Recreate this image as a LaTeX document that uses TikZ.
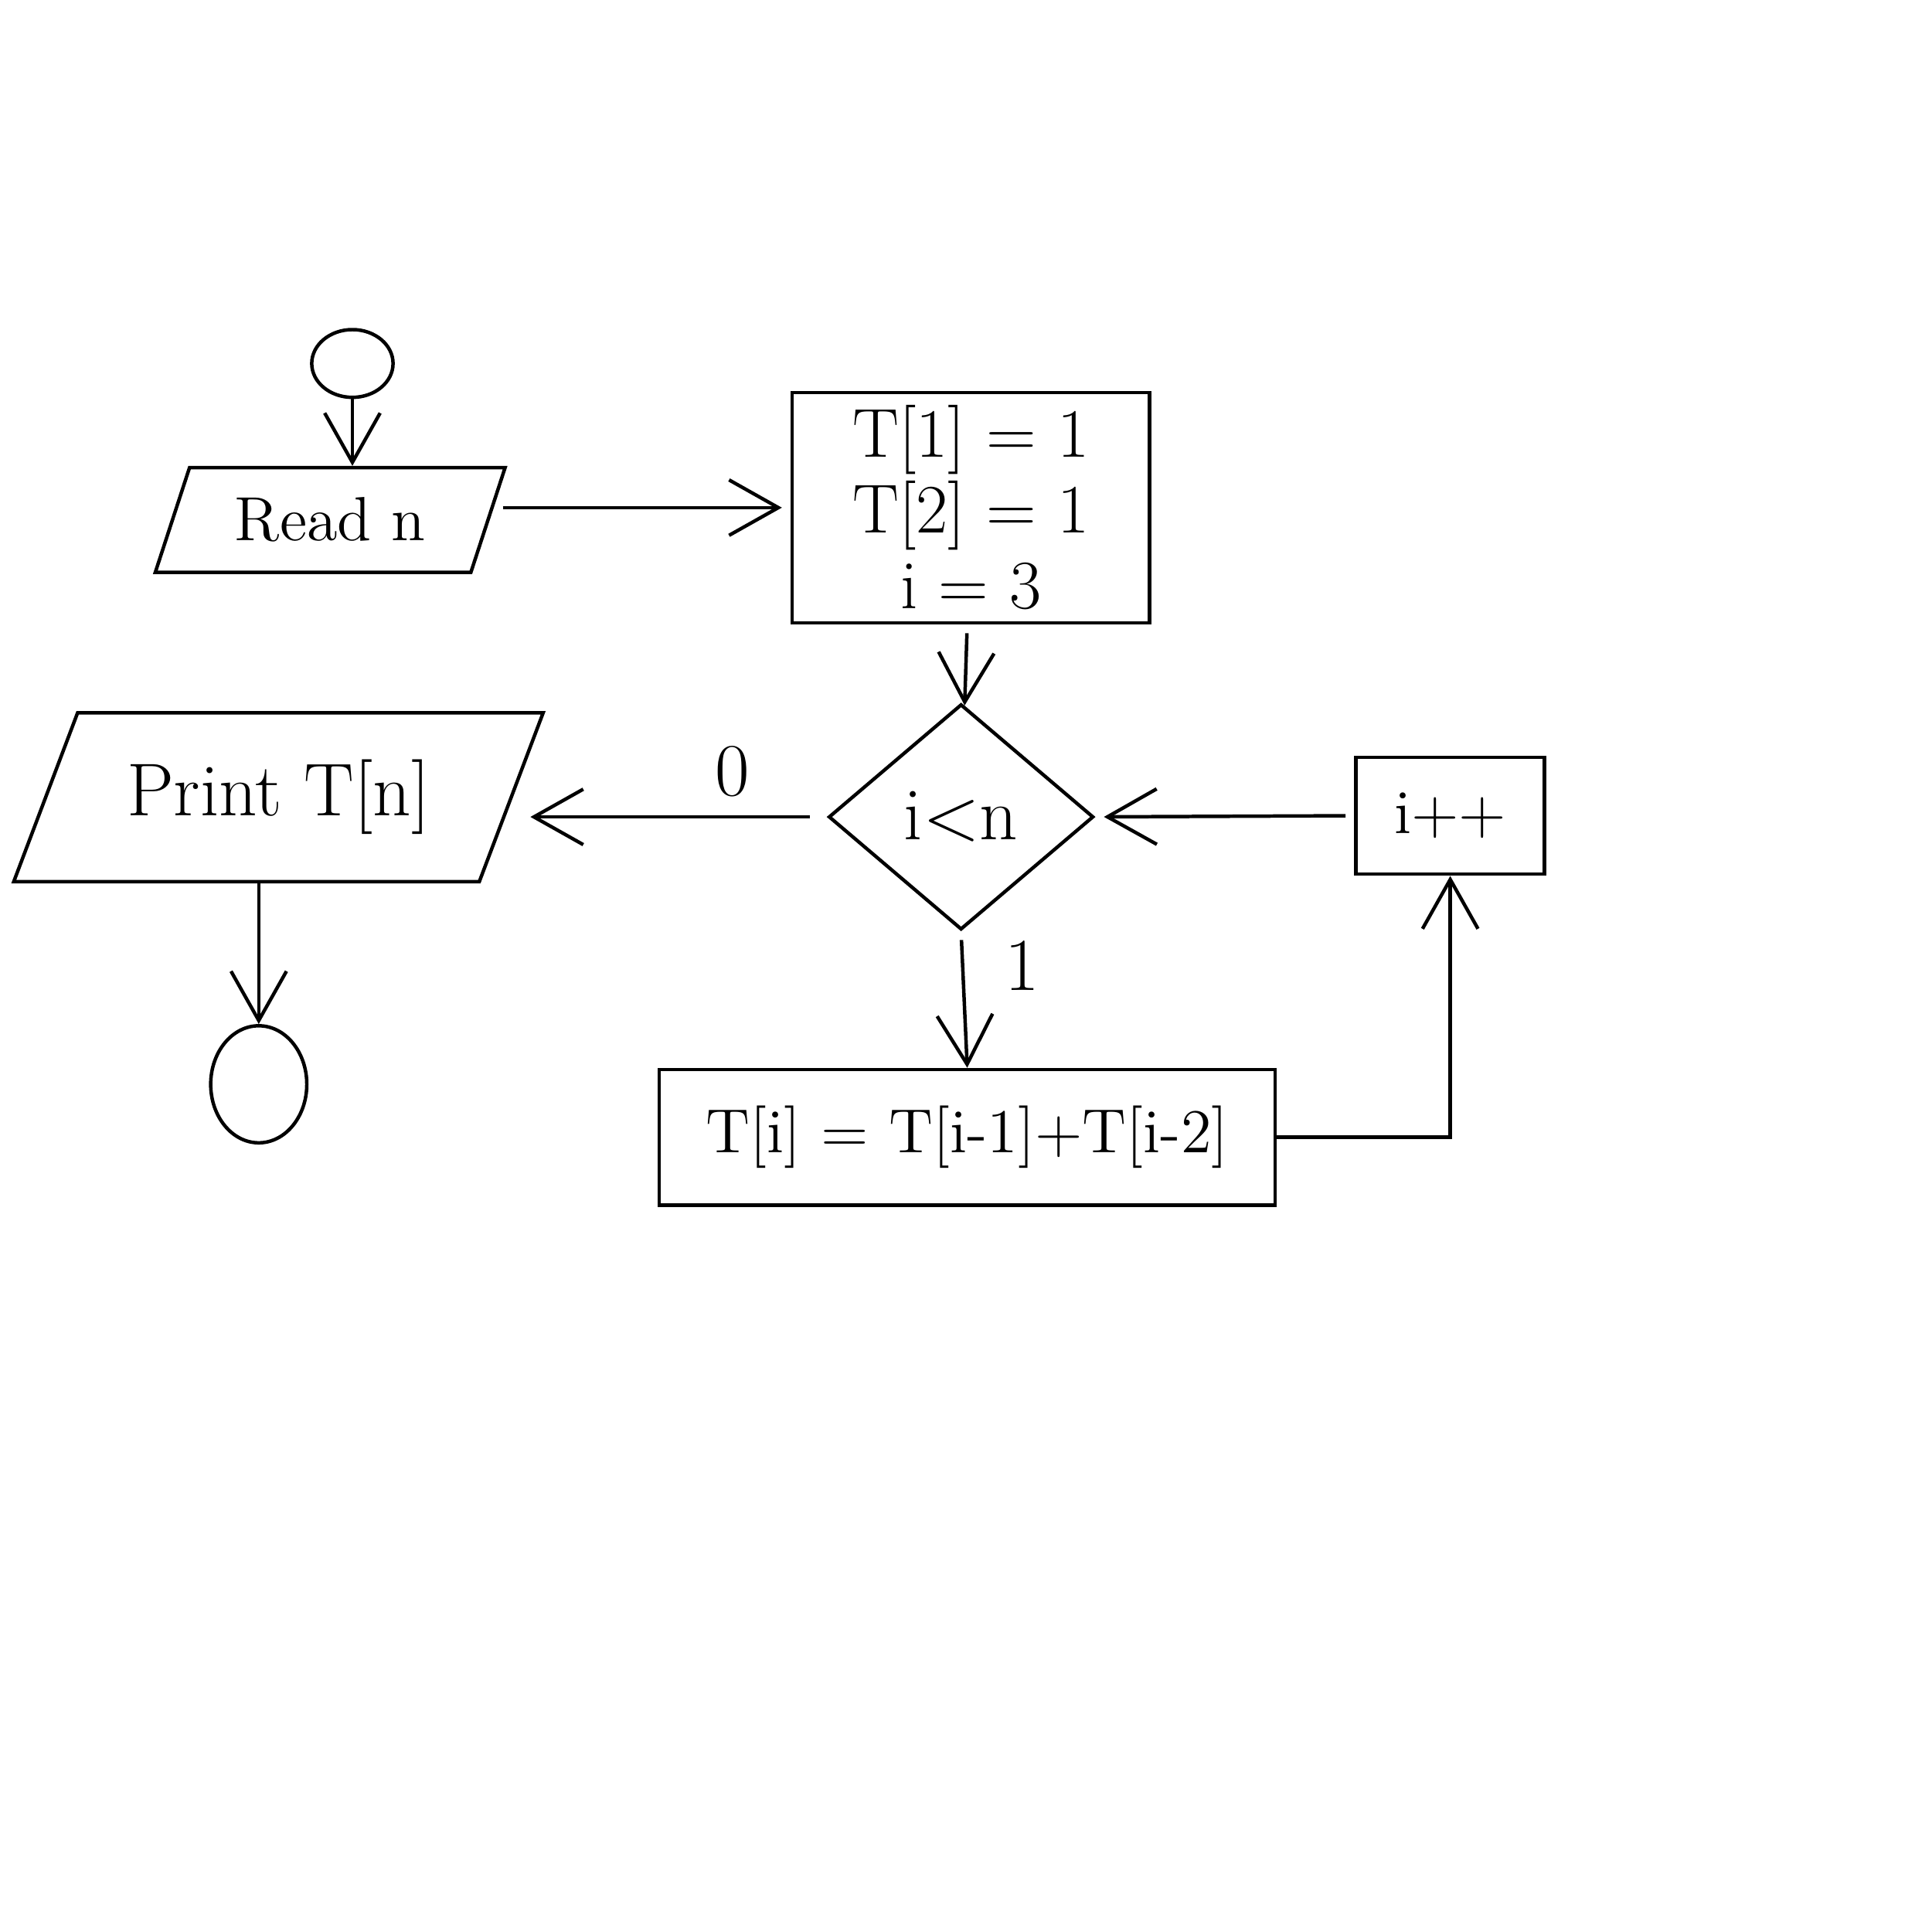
\documentclass[tikz,border=0pt]{standalone}
\usepackage{fontspec}
\usepackage{tikz}
\usetikzlibrary{shapes.geometric,arrows.meta}

\begin{document}
\begin{tikzpicture}[thick, >={Straight Barb[length=4mm,width=4.5mm]},
    io/.style={draw, trapezium, trapezium stretches=true, trapezium left angle=70, trapezium right angle=110},
    box/.style={draw, rectangle, align=center},
    term/.style={draw, ellipse, inner sep=0pt}]
    \useasboundingbox (0,0) rectangle (15.68,-15.68);
    % shapes
    \node[term, minimum width=0.66cm, minimum height=0.55cm] (start) at (2.86,-2.95) {};
    \node[io, minimum width=2.85cm, minimum height=0.85cm, font=\Large] (read) at (2.68,-4.22) {Read n};
    \node[box, minimum width=2.9cm, minimum height=1.87cm, font={\fontsize{16}{17.5}\selectfont}, inner sep=2pt] (init) at (7.88,-4.12) {T[1] = 1\\T[2] = 1\\i = 3};
    \node[draw, diamond, minimum width=2.15cm, minimum height=1.83cm, font=\LARGE] (test) at (7.8,-6.63) {i<n};
    \node[io, trapezium left angle=63, trapezium right angle=117, minimum width=4.3cm, minimum height=1.37cm, font=\LARGE] (print) at (2.26,-6.47) {Print T[n]};
    \node[term, minimum width=0.78cm, minimum height=0.95cm] (stop) at (2.1,-8.8) {};
    \node[box, minimum width=5cm, minimum height=1.1cm, font=\Large] (body) at (7.85,-9.23) {T[i] = T[i-1]+T[i-2]};
    \node[box, minimum width=1.53cm, minimum height=0.95cm, font=\Large] (incr) at (11.77,-6.62) {i++};
    % flow
    \draw[->] (start.south) -- (start.south |- read.north);
    \draw[->, shorten <=3pt, shorten >=2pt] (read.east |- init.west) -- (init.west);
    \draw[->, shorten <=2pt] (init) -- (test);
    \draw[->, shorten <=4pt, shorten >=4pt] (test.west) -- (test.west -| print.east) node[pos=0.3, above=1pt, font=\LARGE] (no) {0};
    \draw[->] (print.south -| stop.north) -- (stop.north);
    \draw[->, shorten <=2pt] (test.south) -- (body.north) node[pos=0.25, right=6pt, font=\LARGE] (yes) {1};
    \draw[->] (body.east) -| (incr.south);
    \draw[->, shorten <=2pt, shorten >=2pt] (incr.west) -- (test.east);
\end{tikzpicture}
\end{document}
